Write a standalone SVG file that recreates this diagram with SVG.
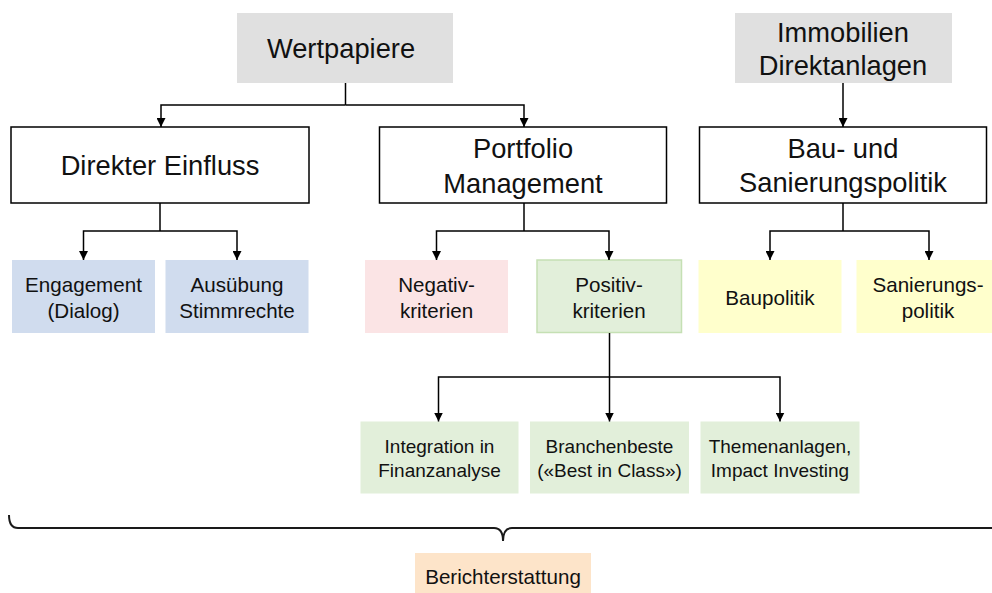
<svg xmlns="http://www.w3.org/2000/svg" width="992" height="593" viewBox="0 0 992 593">
<defs>
<marker id="arr" viewBox="0 0 10 10" refX="10" refY="5" markerWidth="9" markerHeight="9" markerUnits="userSpaceOnUse" orient="auto">
<path d="M0,0 L10,5 L0,10 z" fill="#000"/>
</marker>
<style>
text{font-family:"Liberation Sans",Arial,sans-serif;fill:#111;text-anchor:middle}
.big{font-size:27.3px}
.mid{font-size:20.6px}
.sm{font-size:19px}
.gray{fill:#e0e0e0}
.white{fill:#fff;stroke:#000;stroke-width:1.5}
.blue{fill:#d0dcee}
.pink{fill:#fbe4e5}
.green{fill:#e2efda}
.greenb{fill:#e2efda;stroke:#c5e0b4;stroke-width:1.5}
.yellow{fill:#ffffcc}
.orange{fill:#fde4c9}
.conn path{fill:none;stroke:#000;stroke-width:1.5}
.conn path.a{marker-end:url(#arr)}
</style>
</defs>
<rect width="992" height="593" fill="#fff"/>
<g id="wertpapiere"><rect class="gray" x="237" y="13" width="216" height="70"/><text class="big" x="341" y="58">Wertpapiere</text></g>
<g id="immobilien"><rect class="gray" x="735" y="13" width="217" height="70"/><text class="big" x="843" y="42">Immobilien</text><text class="big" x="843" y="75">Direktanlagen</text></g>
<g id="direkter"><rect class="white" x="11" y="127" width="298" height="76"/><text class="big" x="160" y="175">Direkter Einfluss</text></g>
<g id="portfolio"><rect class="white" x="379.5" y="127" width="287" height="76"/><text class="big" x="523" y="158">Portfolio</text><text class="big" x="523" y="192.5">Management</text></g>
<g id="bau"><rect class="white" x="699.5" y="127" width="287" height="76"/><text class="big" x="843" y="158">Bau- und</text><text class="big" x="843" y="191.5">Sanierungspolitik</text></g>
<g id="engagement"><rect class="blue" x="12" y="260" width="143" height="73"/><text class="mid" x="83.5" y="292">Engagement</text><text class="mid" x="83.5" y="318">(Dialog)</text></g>
<g id="ausuebung"><rect class="blue" x="165.5" y="260" width="143" height="73"/><text class="mid" x="237" y="292">Ausübung</text><text class="mid" x="237" y="318">Stimmrechte</text></g>
<g id="negativ"><rect class="pink" x="365" y="260" width="143" height="73"/><text class="mid" x="436.5" y="292">Negativ-</text><text class="mid" x="436.5" y="318">kriterien</text></g>
<g id="positiv"><rect class="greenb" x="537" y="260" width="144.5" height="72.5"/><text class="mid" x="609" y="292">Positiv-</text><text class="mid" x="609" y="318">kriterien</text></g>
<g id="baupolitik"><rect class="yellow" x="698.5" y="260" width="143" height="73"/><text class="mid" x="770" y="305">Baupolitik</text></g>
<g id="sanierungspolitik"><rect class="yellow" x="856.5" y="260" width="143" height="73"/><text class="mid" x="928" y="292">Sanierungs-</text><text class="mid" x="928" y="318">politik</text></g>
<g id="integration"><rect class="green" x="360.5" y="421.5" width="158" height="72"/><text class="sm" x="439.5" y="453">Integration in</text><text class="sm" x="439.5" y="476.5">Finanzanalyse</text></g>
<g id="branchenbeste"><rect class="green" x="530" y="421.5" width="159" height="72"/><text class="sm" x="609.5" y="453">Branchenbeste</text><text class="sm" x="609.5" y="476.5">(«Best in Class»)</text></g>
<g id="themenanlagen"><rect class="green" x="700.5" y="421.5" width="159" height="72"/><text class="sm" x="780" y="453">Themenanlagen,</text><text class="sm" x="780" y="476.5">Impact Investing</text></g>
<g id="berichterstattung"><rect class="orange" x="415" y="553" width="176" height="40"/><text class="mid" x="503" y="584">Berichterstattung</text></g>
<g id="connectors" class="conn">
<path d="M345.5 83 V105"/>
<path class="a" d="M345.5 105 H161 V127"/>
<path class="a" d="M345.5 105 H524 V127"/>
<path class="a" d="M843 83 V127"/>
<path d="M160 203 V231"/>
<path class="a" d="M160 231 H83.5 V260"/>
<path class="a" d="M160 231 H237 V260"/>
<path d="M524 203 V231"/>
<path class="a" d="M524 231 H436.5 V260"/>
<path class="a" d="M524 231 H609 V260"/>
<path d="M843 203 V231"/>
<path class="a" d="M843 231 H770 V260"/>
<path class="a" d="M843 231 H929 V260"/>
<path d="M609.5 333 V377"/>
<path class="a" d="M609.5 377 H438.5 V421.5"/>
<path class="a" d="M609.5 377 V421.5"/>
<path class="a" d="M609.5 377 H780 V421.5"/>
<path d="M9 515 Q9 528 18 528 L494 528 Q503 528 503 541 Q503 528 512 528 L995 528 Q1004 528 1004 515" style="stroke:#1a1a1a;stroke-width:2"/>
</g>
</svg>
